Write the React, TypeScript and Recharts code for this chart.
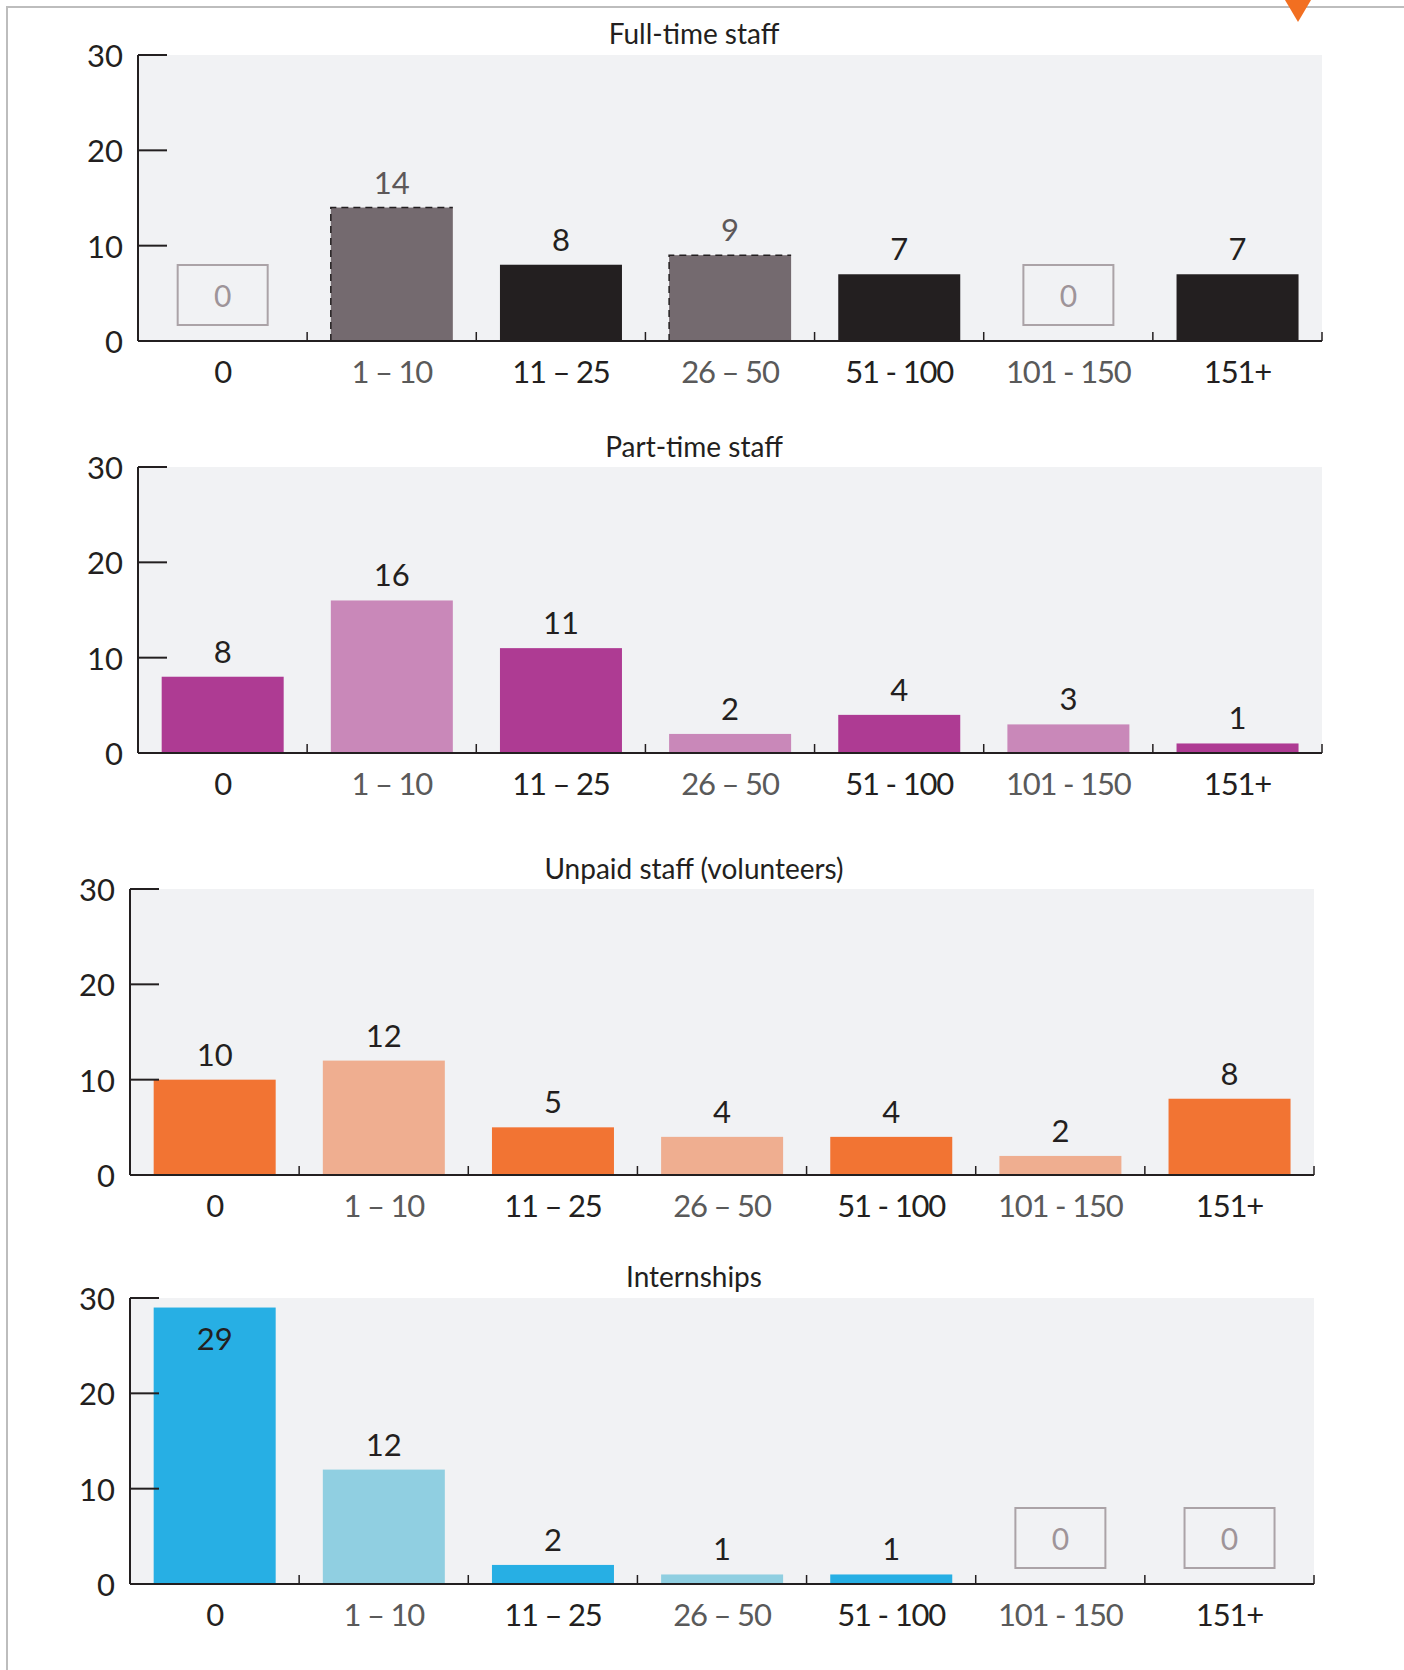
import React from 'react'
import { BarChart, Bar, XAxis, YAxis, CartesianGrid, Cell, LabelList } from 'recharts'

const categories = ['0', '1 – 10', '11 – 25', '26 – 50', '51 - 100', '101 - 150', '151+']
const fullTimeStaff = [0, 14, 8, 9, 7, 0, 7]
const partTimeStaff = [8, 16, 11, 2, 4, 3, 1]
const unpaidStaff = [10, 12, 5, 4, 4, 2, 8]
const internships = [29, 12, 2, 1, 1, 0, 0]
const yTicks = [0, 10, 20, 30]

const FONT = 'Lato, "Open Sans", sans-serif'
const INK = '#231f20'
const MUTED = '#5d5859'
const PLOT_BG = '#f1f2f4'
const PAGE_W = 1404
const PAGE_H = 1670
const Y_AXIS_W = 60
const X_AXIS_H = 60
const TOP_PAD = 24

interface Panel {
  title: string
  values: number[]
  dark: string
  light: string
  dashedLight?: boolean
  titleY: number
  plotTop: number
  plotBottom: number
  plotLeft: number
  plotRight: number
}

const panels: Panel[] = [
  {
    title: 'Full-time staff',
    values: fullTimeStaff,
    dark: '#231f20',
    light: '#746a6f',
    dashedLight: true,
    titleY: 33,
    plotTop: 55,
    plotBottom: 341,
    plotLeft: 138,
    plotRight: 1322,
  },
  {
    title: 'Part-time staff',
    values: partTimeStaff,
    dark: '#ae3b93',
    light: '#c988b9',
    titleY: 446,
    plotTop: 467,
    plotBottom: 753,
    plotLeft: 138,
    plotRight: 1322,
  },
  {
    title: 'Unpaid staff (volunteers)',
    values: unpaidStaff,
    dark: '#f27433',
    light: '#efae90',
    titleY: 868,
    plotTop: 889,
    plotBottom: 1175,
    plotLeft: 130,
    plotRight: 1314,
  },
  {
    title: 'Internships',
    values: internships,
    dark: '#27afe4',
    light: '#90cfe1',
    titleY: 1276,
    plotTop: 1298,
    plotBottom: 1584,
    plotLeft: 130,
    plotRight: 1314,
  },
]

function YTick(props: any) {
  const { x, y, payload } = props
  return (
    <g>
      <line x1={x} x2={x + 29} y1={y} y2={y} stroke={INK} strokeWidth={2} />
      <text x={x - 15} y={y} textAnchor="end" dominantBaseline="central" fontFamily={FONT} fontSize={31} fill={INK}>
        {payload.value}
      </text>
    </g>
  )
}

function makeXTick(band: number) {
  return function XTick(props: any) {
    const { x, y, payload, index } = props
    return (
      <g>
        <line x1={x + band / 2} x2={x + band / 2} y1={y} y2={y - 9} stroke={INK} strokeWidth={1.5} />
        <text
          x={x}
          y={y + 30}
          textAnchor="middle"
          dominantBaseline="central"
          fontFamily={FONT}
          fontSize={31}
          letterSpacing={-1.2}
          fill={index % 2 === 1 ? '#5a5a5a' : INK}
        >
          {payload.value}
        </text>
      </g>
    )
  }
}

function makeBarShape(panel: Panel) {
  return function BarShape(props: any) {
    const { x, y, width, height, fill, index } = props
    if (!height || height <= 0) return <g />
    const dashed = panel.dashedLight && index % 2 === 1
    return (
      <g>
        <rect x={x} y={y} width={width} height={height} fill={fill} />
        {dashed && (
          <path
            d={`M${x},${y + height} L${x},${y} L${x + width},${y}`}
            fill="none"
            stroke={INK}
            strokeWidth={1.5}
            strokeDasharray="7 5"
          />
        )}
      </g>
    )
  }
}

// value above each bar; a framed "0" for empty categories, and inside the bar when it nearly fills the plot
function makeValueLabel(panel: Panel) {
  return function ValueLabel(props: any) {
    const { x, y, width, value, index } = props
    const cx = x + width / 2
    if (value === 0) {
      return (
        <g>
          <rect x={cx - 45} y={y - 76} width={90} height={60} fill="none" stroke="#aba3a7" strokeWidth={2} />
          <text
            x={cx}
            y={y - 46}
            textAnchor="middle"
            dominantBaseline="central"
            fontFamily={FONT}
            fontSize={30}
            fill="#9e9499"
          >
            0
          </text>
        </g>
      )
    }
    const inside = y - 45 < TOP_PAD
    const color = panel.dashedLight && index % 2 === 1 ? MUTED : INK
    return (
      <text
        x={cx}
        y={inside ? y + 42 : y - 14}
        textAnchor="middle"
        fontFamily={FONT}
        fontSize={31}
        fill={color}
      >
        {value}
      </text>
    )
  }
}

function StaffChart({ panel }: { panel: Panel }) {
  const data = categories.map((name, i) => ({ name, value: panel.values[i] }))
  const plotH = panel.plotBottom - panel.plotTop
  const band = (panel.plotRight - panel.plotLeft) / categories.length
  const chartTop = panel.plotTop - TOP_PAD
  return (
    <>
      <div
        style={{
          position: 'absolute',
          left: 494,
          width: 400,
          top: panel.titleY - 17,
          height: 34,
          lineHeight: '34px',
          textAlign: 'center',
          fontFamily: FONT,
          fontSize: 28,
          color: INK,
        }}
      >
        {panel.title}
      </div>
      <div style={{ position: 'absolute', left: 0, top: chartTop }}>
        <BarChart
          width={PAGE_W}
          height={TOP_PAD + plotH + X_AXIS_H}
          data={data}
          barCategoryGap="14%"
          margin={{ top: TOP_PAD, right: PAGE_W - panel.plotRight, bottom: 0, left: panel.plotLeft - Y_AXIS_W }}
        >
          <CartesianGrid horizontal={false} vertical={false} fill={PLOT_BG} stroke="none" />
          <XAxis
            dataKey="name"
            interval={0}
            height={X_AXIS_H}
            tickLine={false}
            tickSize={0}
            tickMargin={0}
            axisLine={{ stroke: INK, strokeWidth: 2 }}
            tick={makeXTick(band)}
          />
          <YAxis
            width={Y_AXIS_W}
            domain={[0, 30]}
            ticks={yTicks}
            allowDataOverflow
            tickLine={false}
            tickSize={0}
            tickMargin={0}
            axisLine={{ stroke: INK, strokeWidth: 2 }}
            tick={<YTick />}
          />
          <Bar dataKey="value" isAnimationActive={false} shape={makeBarShape(panel)}>
            {data.map((_, i) => (
              <Cell key={i} fill={i % 2 === 0 ? panel.dark : panel.light} />
            ))}
            <LabelList dataKey="value" content={makeValueLabel(panel)} />
          </Bar>
        </BarChart>
      </div>
    </>
  )
}

export default function App() {
  return (
    <div
      style={{
        position: 'absolute',
        left: 0,
        top: 0,
        width: PAGE_W,
        height: PAGE_H,
        background: '#ffffff',
        overflow: 'hidden',
      }}
    >
      {/* page frame and corner marker */}
      <div style={{ position: 'absolute', left: 6, top: 6, width: PAGE_W - 6, height: 2, background: '#bdbdbd' }} />
      <div style={{ position: 'absolute', left: 6, top: 6, width: 2, height: PAGE_H - 6, background: '#bdbdbd' }} />
      <svg width={40} height={30} style={{ position: 'absolute', left: 1278, top: 0 }}>
        <polygon points="7,0 33,0 20,22" fill="#f26f21" />
      </svg>
      {panels.map((p) => (
        <StaffChart key={p.title} panel={p} />
      ))}
    </div>
  )
}
